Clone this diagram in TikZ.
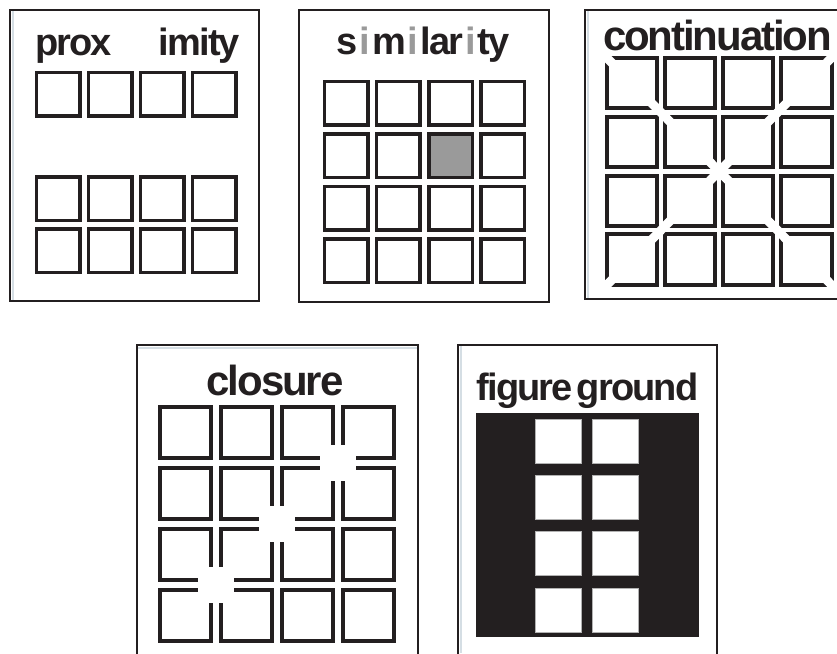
\documentclass[tikz,border=0pt]{standalone}
\usepackage{fontspec}
\setmainfont{Liberation Sans}
\newfontfamily\titlefont[LetterSpace=-5]{Liberation Sans}
\usepackage{tikz}
\usetikzlibrary{positioning, calc}
\definecolor{inkBlack}{HTML}{231F20}
\definecolor{simGray}{HTML}{9A9A9A}
\definecolor{edgeBlue}{HTML}{D5DEE4}

\begin{document}
\begin{tikzpicture}[
      x=1pt, y=-1pt,
      every node/.style={inner sep=0pt, outer sep=0pt},
      frame/.style={draw=inkBlack, line width=1.8pt},
      shade/.style={draw=edgeBlue, line width=2pt},
      title/.style={font=\titlefont\fontsize{38}{38}\selectfont\bfseries, text=inkBlack, anchor=base},
      bigtitle/.style={title, font=\titlefont\fontsize{42}{42}\selectfont\bfseries},
      cell/.style={rectangle, draw=inkBlack, line width=3.5pt, minimum size=43.5pt},
      cellgray/.style={cell, fill=simGray},
      bigcell/.style={rectangle, draw=inkBlack, line width=4pt, minimum size=50.5pt},
      cut/.style={draw=white, line width=9pt, shorten <=-6pt, shorten >=-6pt},
      gap/.style={rectangle, fill=white, minimum size=36pt},
      fgcell/.style={rectangle, fill=white, draw=gray!60, line width=0.6pt,
                     minimum width=46pt, minimum height=44pt},
    ]

      \useasboundingbox (0,0) rectangle (837,653);

      % frames
      \draw[shade] (12.5,11) -- (12.5,300);
      \draw[frame] (10,10) rectangle (259,301);
      \draw[frame] (299,10) rectangle (549,302);
      \draw[shade] (587.5,11) -- (587.5,298);
      \draw[frame] (585,10) rectangle (845,299);
      \draw[shade] (138,347.5) -- (417,347.5);
      \draw[frame] (137,345) rectangle (418,670);
      \draw[shade] (460.5,346) -- (460.5,653);
      \draw[frame] (458,345) rectangle (717,670);

      % proximity
      \node[title, anchor=base west] (proxa) at (35,55) {prox};
      \node[title, anchor=base east] (proxb) at (240,55) {imity};
      \foreach \c in {0,...,3} {
        \node[cell] (prox0\c) at (58+52*\c, 94) {};
        \node[cell] (prox1\c) at (58+52*\c, 198.5) {};
        \node[cell] (prox2\c) at (58+52*\c, 250.5) {};
      }

      % similarity
      \node[title] (simtitle) at (423,54)
        {s\kern2pt{\color{simGray}i}\kern2pt m\kern2pt{\color{simGray}i}\kern2pt lar\kern2pt{\color{simGray}i}\kern2pt ty};
      \foreach \r in {0,...,3}
        \foreach \c in {0,...,3}
          \node[cell] (sim\r\c) at (346+52.3*\c, 103+52.5*\r) {};
      \node[cellgray] (simodd) at (sim12.center) {};

      % continuation
      \node[bigtitle] (conttitle) at (717.5,50) {continuation};
      \foreach \r in {0,...,3}
        \foreach \c in {0,...,3}
          \node[bigcell] (cont\r\c) at (632+58.1*\c, 83+58.9*\r) {};
      \draw[cut] (cont00.north west) -- (cont33.south east);
      \draw[cut] (cont03.north east) -- (cont30.south west);

      % closure
      \node[bigtitle] (clostitle) at (275,395) {closure};
      \foreach \r in {0,...,3}
        \foreach \c in {0,...,3}
          \node[bigcell, minimum size=51pt] (clos\r\c) at (185+61*\c, 432+61*\r) {};
      \node[gap] (gapa) at ($(clos02.south east)!0.5!(clos13.north west)$) {};
      \node[gap] (gapb) at ($(clos11.south east)!0.5!(clos22.north west)$) {};
      \node[gap] (gapc) at ($(clos20.south east)!0.5!(clos31.north west)$) {};

      % figure ground
      \node[title] (fgtitle) at (587.5,400) {figure\kern4pt ground};
      \node[rectangle, fill=inkBlack, minimum width=223pt, minimum height=224pt] (fgblock) at (587.5,525) {};
      \foreach \r in {0,...,3}
        \foreach \c in {0,1}
          \node[fgcell] (fg\r\c) at (558+57*\c, 441+56.3*\r) {};

    \end{tikzpicture}
\end{document}
